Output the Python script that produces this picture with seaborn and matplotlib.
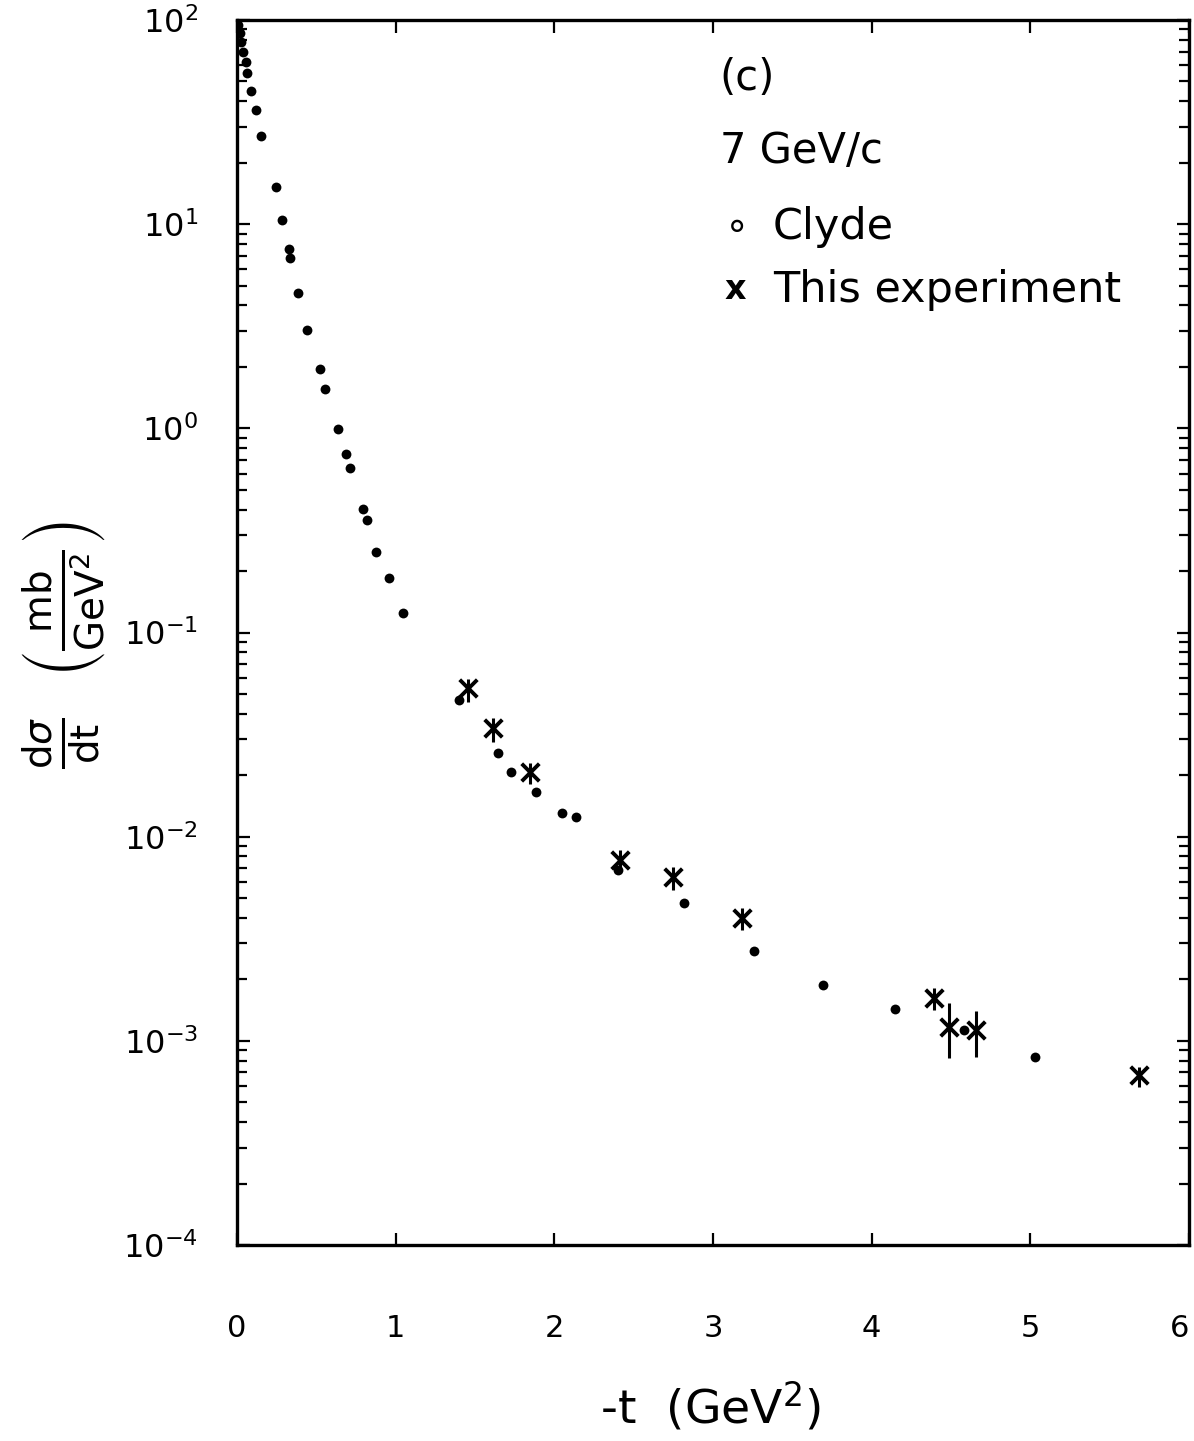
import numpy as np
import pandas as pd
import matplotlib
matplotlib.use("Agg")
import matplotlib.pyplot as plt
import seaborn as sns
from matplotlib.ticker import FixedLocator, LogLocator, NullFormatter

# Clyde data: -t (GeV^2) and dsigma/dt (mb/GeV^2)
clyde_t = [0.006, 0.019, 0.025, 0.038, 0.057, 0.063, 0.088, 0.12, 0.151, 0.246,
           0.284, 0.328, 0.334, 0.384, 0.441, 0.523, 0.554, 0.636, 0.687, 0.712,
           0.794, 0.819, 0.876, 0.958, 1.046, 1.399, 1.645, 1.727, 1.884, 2.048,
           2.136, 2.401, 2.817, 3.258, 3.692, 4.146, 4.581, 5.028]
clyde_dsdt = [94.5, 86.0, 78.0, 69.7, 62.3, 55.0, 44.9, 36.3, 27.0, 15.2,
              10.5, 7.56, 6.83, 4.60, 3.03, 1.95, 1.56, 0.99, 0.75, 0.64,
              0.403, 0.356, 0.248, 0.185, 0.125, 0.0468, 0.0257, 0.0207, 0.01656, 0.01309,
              0.0125, 0.00687, 0.00474, 0.00276, 0.00188, 0.001435, 0.001133, 0.000835]

# This experiment: value with lower / upper error limits
exp_t = [1.456, 1.613, 1.846, 2.413, 2.747, 3.182, 4.392, 4.486, 4.657, 5.684]
exp_dsdt = [0.0535, 0.0341, 0.0208, 0.00769, 0.00635, 0.00400, 0.001625, 0.001172, 0.001133, 0.000681]
exp_lo = [0.0457, 0.0291, 0.01815, 0.00673, 0.00548, 0.00350, 0.00142, 0.000826, 0.000835, 0.000596]
exp_hi = [0.0593, 0.0382, 0.0230, 0.00861, 0.00711, 0.00448, 0.00182, 0.001535, 0.001403, 0.000746]

x_ticks = [0, 1, 2, 3, 4, 5, 6]
y_ticks = [1e-4, 1e-3, 1e-2, 1e-1, 1e0, 1e1, 1e2]
y_tick_labels = [r"$10^{-4}$", r"$10^{-3}$", r"$10^{-2}$", r"$10^{-1}$",
                 r"$10^{0}$", r"$10^{1}$", r"$10^{2}$"]

sns.set_style("white")
plt.rcParams["font.family"] = ["DejaVu Sans"]
plt.rcParams["mathtext.fontset"] = "dejavusans"
plt.rcParams["text.color"] = "black"
plt.rcParams["axes.labelcolor"] = "black"
plt.rcParams["xtick.color"] = "black"
plt.rcParams["ytick.color"] = "black"

clyde = pd.DataFrame({"t": clyde_t, "dsdt": clyde_dsdt})
exp = pd.DataFrame({"t": exp_t, "dsdt": exp_dsdt, "lo": exp_lo, "hi": exp_hi})

fig = plt.figure(figsize=(11.94, 14.41), dpi=100)
ax = fig.add_axes([0.1985, 0.136, 0.7973, 0.8501])

ax.set_yscale("log")
ax.set_xlim(0, 6)
ax.set_ylim(1e-4, 1e2)

sns.scatterplot(data=clyde, x="t", y="dsdt", ax=ax, color="black", s=50,
                marker="o", edgecolor="black", linewidth=0, legend=False, zorder=3)

yerr = np.array([exp["dsdt"] - exp["lo"], exp["hi"] - exp["dsdt"]])
ax.errorbar(exp["t"], exp["dsdt"], yerr=yerr, fmt="none", ecolor="black",
            elinewidth=2.2, capsize=0, zorder=4)
sns.scatterplot(data=exp, x="t", y="dsdt", ax=ax, color="black", s=160,
                marker="x", linewidth=2.8, legend=False, zorder=5)

for side in ["left", "right", "top", "bottom"]:
    ax.spines[side].set_linewidth(2.4)
    ax.spines[side].set_color("black")

ax.xaxis.set_major_locator(FixedLocator(x_ticks))
ax.set_xticklabels([str(v) for v in x_ticks])
ax.yaxis.set_major_locator(FixedLocator(y_ticks))
ax.set_yticklabels(y_tick_labels)
ax.yaxis.set_minor_locator(LogLocator(base=10, subs=np.arange(2, 10)))
ax.yaxis.set_minor_formatter(NullFormatter())

ax.tick_params(axis="x", which="major", direction="in", top=True, bottom=True,
               length=9, width=1.6, pad=50, labelsize=22)
ax.tick_params(axis="y", which="major", direction="in", left=True, right=True,
               length=9, width=1.6, pad=28, labelsize=23)
ax.tick_params(axis="y", which="minor", direction="in", left=True, right=True,
               length=7, width=1.6)
# keep the last x label inside the figure
ax.get_xticklabels()[-1].set_horizontalalignment("right")

ax.set_xlabel(r"-t  (GeV$^2$)", fontsize=34)
ax.xaxis.set_label_coords(0.497, -0.11)
ax.set_ylabel(r"$\frac{\mathrm{d}\sigma}{\mathrm{dt}}\ \ \left(\frac{\mathrm{mb}}{\mathrm{GeV}^2}\right)$",
              fontsize=40)
ax.yaxis.set_label_coords(-0.135, 0.49)

ax.text(0.507, 0.953, "(c)", transform=ax.transAxes, fontsize=30, va="center", ha="left")
ax.text(0.507, 0.893, "7 GeV/c", transform=ax.transAxes, fontsize=30, va="center", ha="left")
ax.text(0.512, 0.831, "\u2218", transform=ax.transAxes, fontsize=28, va="center", ha="left")
ax.text(0.563, 0.831, "Clyde", transform=ax.transAxes, fontsize=31, va="center", ha="left")
ax.text(0.512, 0.780, "x", transform=ax.transAxes, fontsize=24, va="center", ha="left",
        fontweight="bold")
ax.text(0.563, 0.780, "This experiment", transform=ax.transAxes, fontsize=31, va="center", ha="left")

fig.savefig("out.png", dpi=100, facecolor="white")
